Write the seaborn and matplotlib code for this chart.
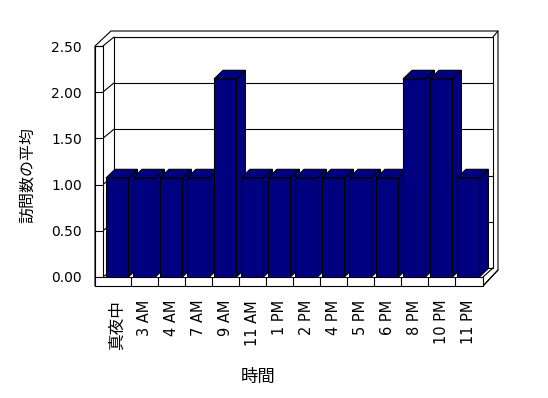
import matplotlib
matplotlib.use('Agg')
import matplotlib.pyplot as plt
import seaborn as sns
import pandas as pd
from matplotlib.patches import Polygon
from matplotlib.lines import Line2D

hours = ['真夜中', '3 AM', '4 AM', '7 AM', '9 AM', '11 AM', '1 PM', '2 PM',
         '4 PM', '5 PM', '6 PM', '8 PM', '10 PM', '11 PM']
avg_visits = [1, 1, 1, 1, 2, 1, 1, 1, 1, 1, 1, 2, 2, 1]
y_ticks = [0.0, 0.5, 1.0, 1.5, 2.0, 2.5]
y_title = '訪問数の平均'
x_title = '時間'

sns.set_style('white')
plt.rcParams['font.family'] = ['DejaVu Sans', 'Noto Sans CJK JP']
plt.rcParams['text.color'] = 'black'
plt.rcParams['xtick.color'] = 'black'
plt.rcParams['ytick.color'] = 'black'
plt.rcParams['axes.edgecolor'] = 'black'

W, H = 548, 398
fig = plt.figure(figsize=(W / 100, H / 100), dpi=100)
fig.patch.set_facecolor('white')


def fx(x):
    return x / W


def fy(y):
    return 1 - y / H


def rect(l, t, r, b):
    return [fx(l), fy(b), (r - l) / W, (b - t) / H]


LW = 0.8
NAVY = '#000080'

# ---- background frame (walls / floor) in pixel coords
bg = fig.add_axes([0, 0, 1, 1], zorder=0)
bg.set_xlim(0, W)
bg.set_ylim(H, 0)
bg.axis('off')


def poly(pts, fc='white', z=1):
    bg.add_patch(Polygon(pts, closed=True, fc=fc, ec='black', lw=LW, zorder=z,
                         joinstyle='miter'))


def line(xs, ys, z=3):
    bg.add_line(Line2D(xs, ys, color='black', lw=LW, zorder=z))


poly([(95, 46), (111, 31), (498, 31), (498, 270), (483, 286), (95, 286)])
poly([(114, 37), (493, 37), (493, 268), (114, 268)])
line([103, 114], [46, 37])
line([493, 498], [37, 31])
line([493, 483], [268, 277])
line([103, 114], [277, 268])
line([483, 498], [286, 270])
# L-shaped front face of left wall + floor
poly([(95, 46), (103, 46), (103, 277), (483, 277), (483, 286), (95, 286)], z=4)
# connectors on the left wall's inner face
front_scale = (277 - 45.7) / 2.5
for v in y_ticks[1:-1]:
    yy = 277 - v * front_scale
    line([103, 114], [yy, yy - 9])

# ---- back wall gridlines
ax_back = fig.add_axes(rect(114, 37, 493, 268), zorder=1)
ax_back.patch.set_alpha(0)
ax_back.set_ylim(0, 2.5)
ax_back.set_xlim(0, 1)
ax_back.set_yticks(y_ticks)
ax_back.set_xticks([])
ax_back.tick_params(left=False, labelleft=False)
ax_back.grid(axis='y', color='black', lw=LW)
for s in ax_back.spines.values():
    s.set_visible(False)

# ---- left wall front face with y tick labels
ax_wall = fig.add_axes(rect(95, 46, 103, 277), zorder=3)
ax_wall.patch.set_alpha(0)
ax_wall.set_ylim(0, 2.5)
ax_wall.set_xlim(0, 1)
ax_wall.set_xticks([])
ax_wall.set_yticks(y_ticks)
ax_wall.set_yticklabels([f'{v:.2f}' for v in y_ticks])
ax_wall.tick_params(axis='y', direction='in', length=8 * 0.72, width=LW,
                    pad=9.5, labelsize=10, left=True)
for s in ax_wall.spines.values():
    s.set_visible(False)

# ---- main bars
ax = fig.add_axes(rect(103.7, 45.7, 481.7, 277), zorder=2)
ax.patch.set_alpha(0)
df = pd.DataFrame({'hour': hours, 'visits': avg_visits})
sns.barplot(data=df, x='hour', y='visits', color=NAVY, saturation=1,
            width=0.83, edgecolor='black', linewidth=LW, errorbar=None, ax=ax)
bar_scale = 99.0
ax.set_xlim(-0.5, len(hours) - 0.5)
ax.set_ylim(0, (277 - 45.7) / bar_scale)
ddx = 9.0 / 27.0
ddy = 8.7 / bar_scale
for i, p in enumerate(ax.patches):
    x0 = p.get_x()
    w = p.get_width()
    h = p.get_height()
    x1 = x0 + w
    p.set_zorder(3 + 3 * i + 2)
    p.set_facecolor(NAVY)
    side = Polygon([(x1, 0), (x1 + ddx, ddy), (x1 + ddx, h + ddy), (x1, h)],
                   closed=True, fc=NAVY, ec='black', lw=LW, zorder=3 + 3 * i + 1,
                   clip_on=False)
    top = Polygon([(x0, h), (x0 + ddx, h + ddy), (x1 + ddx, h + ddy), (x1, h)],
                  closed=True, fc=NAVY, ec='black', lw=LW, zorder=3 + 3 * i + 1,
                  clip_on=False)
    ax.add_patch(side)
    ax.add_patch(top)

ax.set_xlabel('')
ax.set_ylabel('')
ax.set_yticks([])
ax.set_xticks(range(len(hours)))
ax.set_xticklabels(hours, rotation=90, fontsize=10.5)
ax.tick_params(axis='x', which='major', length=0, pad=16.5)
ax.set_xticks([k + 0.5 for k in range(len(hours) - 1)], minor=True)
ax.tick_params(axis='x', which='minor', bottom=True, direction='out',
               length=9 * 0.72, width=LW, color='black')
ax.get_xticklabels()[0].set_fontsize(12)
for s in ax.spines.values():
    s.set_visible(False)

fig.text(fx(28), fy(175), y_title, rotation=90, ha='center', va='center',
         fontsize=11.5)
fig.text(fx(258), fy(377), x_title, ha='center', va='center', fontsize=12.5)

fig.savefig('out.png', dpi=100)
